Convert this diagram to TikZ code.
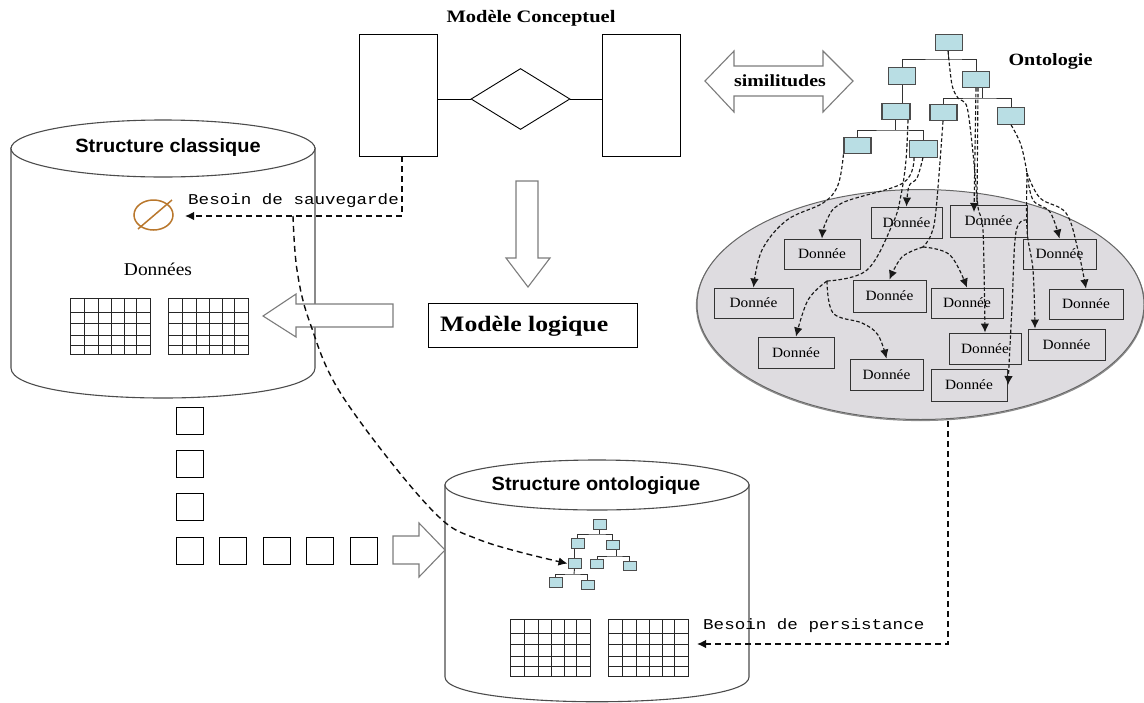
\documentclass[tikz,border=0pt]{standalone}
\usepackage{fontspec}
\usetikzlibrary{arrows.meta,shapes.geometric,calc}
\setmainfont{Liberation Serif}
\newfontfamily\boxf[FakeStretch=1.08]{Liberation Serif}
\newfontfamily\boldf[FakeStretch=1.17]{Liberation Serif}
\newfontfamily\headf[FakeStretch=1.04]{Liberation Sans}
\newfontfamily\monof[FakeStretch=1.17]{Liberation Mono}
\definecolor{treefill}{HTML}{B9DEE4}
\definecolor{ellfill}{HTML}{DEDCE0}
\definecolor{hollow}{HTML}{7C7C7C}
\definecolor{icon}{HTML}{B9772C}
\tikzset{
 tbox/.style={draw=black!70,line width=1.1pt,fill=treefill,inner sep=0pt,minimum width=#1,minimum height=16.5pt},
 tbox/.default=27pt,
 sbox/.style={draw=black!70,line width=1pt,fill=treefill,inner sep=0pt,minimum width=13pt,minimum height=9.5pt},
 dbox/.style={draw=black!80,line width=.9pt,inner sep=0pt,font=\boxf\fontsize{14.2}{16}\selectfont},
 dashc/.style={draw=black!90,line width=1.15pt,dash pattern=on 3.6pt off 2.2pt},
 dashl/.style={draw=black!95,line width=1.4pt,dash pattern=on 6pt off 4pt},
 tip/.style={-{Latex[length=9pt,width=8.5pt]}},
 tline/.style={draw=black!80,line width=.9pt},
 er/.style={draw=black,line width=.9pt,inner sep=0pt},
 sq/.style={draw=black,line width=.9pt,inner sep=0pt,minimum size=27pt},
 harrow/.style={draw=hollow,line width=1.1pt,fill=white},
 cyl/.style={draw=black!70,line width=1.1pt,fill=white},
 gridl/.style={draw=black!85,line width=.8pt},
 lab/.style={inner sep=0pt},
}
\newcommand{\gridtab}[2]{%
 \begin{scope}[shift={(#1,#2)}]
 \draw[gridl] (0,0) rectangle (80,56.5);
 \foreach \vx in {14,28,41,54,66}{\draw[gridl] (\vx,0) -- (\vx,56.5);}
 \foreach \hy in {14,25,37,47}{\draw[gridl] (0,\hy) -- (80.5,\hy);}
 \end{scope}}
\begin{document}
\begin{tikzpicture}[x=1pt,y=-1pt]
\useasboundingbox (0,0) rectangle (1144,702);
% cylinders
\path[cyl] (11,148) -- (11,368) .. controls (11,408) and (315,408) .. (315,368) -- (315,148) -- cycle;
\node[cyl,ellipse,inner sep=0pt,minimum width=304pt,minimum height=57pt] (cylA) at (163,148.5) {};
\node[lab,font=\headf\bfseries\fontsize{19.2}{20}\selectfont] (cylAt) at (168,148) {Structure classique};
\path[cyl] (445,485) -- (445,677) .. controls (445,710) and (749,710) .. (749,677) -- (749,485) -- cycle;
\node[cyl,ellipse,inner sep=0pt,minimum width=304pt,minimum height=50pt] (cylB) at (597,485) {};
\node[lab,font=\headf\bfseries\fontsize{19.2}{20}\selectfont] (cylBt) at (596,486) {Structure ontologique};
% top model
\node[lab,font=\boldf\bfseries\fontsize{17.5}{19}\selectfont] (mct) at (531,18) {Modèle Conceptuel};
\node[er,minimum width=78pt,minimum height=122pt] (e1) at (398,95) {};
\node[er,minimum width=78pt,minimum height=122pt] (e2) at (641,95) {};
\node[er,diamond,aspect=1.62,minimum width=99pt,minimum height=61pt] (rel) at (520.5,99) {};
\draw[line width=.9pt] (e1.east |- rel.west) -- (rel.west);
\draw[line width=.9pt] (rel.east) -- (e2.west |- rel.east);
% hollow arrows
\path[harrow] (516,181) -- (538,181) -- (538,258) -- (550,258) -- (528,287) -- (506,258) -- (516,258) -- cycle;
\path[harrow] (393,304) -- (296,304) -- (296,294) -- (263,316) -- (296,337) -- (296,327) -- (393,327) -- cycle;
\path[harrow] (393,536) -- (419,536) -- (419,523) -- (445,550) -- (419,577) -- (419,564) -- (393,564) -- cycle;
\path[harrow] (705,81) -- (734,51) -- (734,66) -- (823,66) -- (823,51) -- (853,81) -- (823,112) -- (823,96) -- (734,96) -- (734,112) -- cycle;
\node[lab,font=\boldf\bfseries\fontsize{17}{19}\selectfont] (sim) at (780,81) {similitudes};
\node[lab,font=\boldf\bfseries\fontsize{17.2}{19}\selectfont] (ont) at (1050.5,61) {Ontologie};
% logical model
\node[er,minimum width=209pt,minimum height=44pt] (ml) at (532.5,325) {};
\node[lab,anchor=west,font=\boldf\bfseries\fontsize{22}{24}\selectfont] (mlt) at (440,326) {Modèle logique};
% tables
\node[lab,font=\boxf\fontsize{18}{19}\selectfont] (don) at (158,269) {Données};
\gridtab{70}{298}
\gridtab{168}{298}
\gridtab{510}{619.5}
\gridtab{608}{619.5}
% icon
\draw[icon,line width=1.5pt] (153.5,215) ellipse [x radius=19.5,y radius=15];
\draw[icon,line width=1.5pt] (138,229) -- (172,200);
% squares
\node[sq] (s1) at (189.5,421) {};
\node[sq] (s2) at (189.5,464) {};
\node[sq] (s3) at (189.5,507) {};
\node[sq] (s4) at (189.5,551) {};
\node[sq] (s5) at (232.5,551) {};
\node[sq] (s6) at (276.5,551) {};
\node[sq] (s7) at (319.5,551) {};
\node[sq] (s8) at (363.5,551) {};
% big ellipse
\draw[draw=black!45,line width=1.2pt] (920.5,305.5) ellipse [x radius=224,y radius=115];
\node[ellipse,draw=black!60,line width=1pt,fill=ellfill,inner sep=0pt,minimum width=447pt,minimum height=230pt] (ell) at (920.5,304.5) {};
% data boxes
\node[dbox,minimum width=71pt,minimum height=31pt] (b1) at (906.5,222.5) {Donnée};
\node[dbox,minimum width=77pt,minimum height=32pt] (b2) at (988.5,221) {Donnée};
\node[dbox,minimum width=76pt,minimum height=30pt] (b3) at (822,254) {Donnée};
\node[dbox,minimum width=73pt,minimum height=30pt] (b4) at (1059.5,254) {Donnée};
\node[dbox,minimum width=79pt,minimum height=30pt] (b5) at (753.5,303) {Donnée};
\node[dbox,minimum width=73pt,minimum height=32pt] (b6) at (889.5,296) {Donnée};
\node[dbox,minimum width=72pt,minimum height=30pt] (b7) at (967,303) {Donnée};
\node[dbox,minimum width=74pt,minimum height=30pt] (b8) at (1086,304) {Donnée};
\node[dbox,minimum width=76pt,minimum height=31pt] (b9) at (796,352.5) {Donnée};
\node[dbox,minimum width=72pt,minimum height=31pt] (b10) at (985,348.5) {Donnée};
\node[dbox,minimum width=77pt,minimum height=31pt] (b11) at (1066.5,344.5) {Donnée};
\node[dbox,minimum width=73pt,minimum height=31pt] (b12) at (886.5,374.5) {Donnée};
\node[dbox,minimum width=76pt,minimum height=32pt] (b13) at (969,385) {Donnée};
% big tree
\node[tbox] (r) at (949,42.5) {};
\node[tbox] (tl) at (902,76) {};
\node[tbox] (tr) at (976,79.5) {};
\node[tbox=28pt] (ta) at (896,111.5) {};
\node[tbox] (tb) at (943.5,112.5) {};
\node[tbox] (tc) at (1011,116) {};
\node[tbox] (td) at (857.5,145.5) {};
\node[tbox=28pt] (te) at (923.5,149) {};
\coordinate (bus1) at (948,59);
\coordinate (bus2) at (982,98);
\coordinate (bus3) at (895,130);
\draw[tline] (tl.north) |- (bus1) -| (tr.north);
\draw[tline] (r.south -| bus1) -- (bus1);
\draw[tline] (tb.north) |- (bus2) -| (tc.north);
\draw[tline] (tr.south -| bus2) -- (bus2);
\draw[tline] (td.north) |- (bus3) -| (te.north);
\draw[tline] (ta.south -| bus3) -- (bus3);
\draw[tline] (tl.south) -- (tl.south |- ta.north);
% small tree
\node[sbox] (q0) at (599.5,524.5) {};
\node[sbox] (ql) at (577.5,543.5) {};
\node[sbox] (qr) at (612.5,545) {};
\node[sbox] (qa) at (574.5,563.5) {};
\node[sbox] (qb) at (597,564) {};
\node[sbox] (qc) at (629.5,566) {};
\node[sbox] (qd) at (555.5,582.5) {};
\node[sbox] (qe) at (587.5,585) {};
\coordinate (qbus1) at (599.5,534);
\coordinate (qbus2) at (616,556);
\coordinate (qbus3) at (574,574);
\draw[tline] (ql.north) |- (qbus1) -| (qr.north);
\draw[tline] (q0.south) -- (qbus1);
\draw[tline] (qb.north) |- (qbus2) -| (qc.north);
\draw[tline] (qr.south -| qbus2) -- (qbus2);
\draw[tline] (qd.north) |- (qbus3) -| (qe.north);
\draw[tline] (qa.south) -- (qbus3);
\draw[tline] (ql.south -| qa.north) -- (qa.north);
% dashed connectors of the ontology
\coordinate (jd) at (827,281);
\coordinate (je) at (923,247);
\coordinate (jc) at (1027,173);
\draw[dashc,tip] plot[smooth,tension=.6] coordinates {(td.south west) (838,185) (823,203) (787,220) (762,250) (b5.north)};
\draw[dashc,tip] plot[smooth,tension=.6] coordinates {(914,157.5) (903,183) (842,203) (826,222) (b3.north)};
\draw[dashc,tip] plot[smooth,tension=.6] coordinates {(923,157.5) (917,178) (909,186) (b1.north)};
\draw[dashc] plot[smooth,tension=.6] coordinates {(908,120) (906,160) (901,195) (893,223) (867,270) (jd)};
\draw[dashc,tip] plot[smooth,tension=.6] coordinates {(jd) (808,300) (b9.north)};
\draw[dashc,tip] plot[smooth,tension=.6] coordinates {(jd) (833,313) (862,323) (878,335) (b12.north)};
\draw[dashc] plot[smooth,tension=.6] coordinates {(943,121) (936,210) (931,235) (je)};
\draw[dashc,tip] plot[smooth,tension=.6] coordinates {(je) (902,257) (b6.north)};
\draw[dashc,tip] plot[smooth,tension=.6] coordinates {(je) (950,255) (b7.north)};
\draw[dashc,tip] plot[smooth,tension=.5] coordinates {(948,51) (952,85) (958,98) (967,107) (973,153) (978,207) (983,230) (b10.north)};
\draw[dashc,tip] (976,88) -- (974,212);
\draw[dashc] (978,88) -- (977,205);
\draw[dashc] plot[smooth,tension=.6] coordinates {(tc.south) (1021,145) (jc)};
\draw[dashc,tip] plot[smooth,tension=.6] coordinates {(jc) (1033,200) (1050,212) (b4.north)};
\draw[dashc,tip] plot[smooth,tension=.6] coordinates {(jc) (1040,198) (1066,213) (1078,250) (b8.north)};
\draw[dashc,tip] plot[smooth,tension=.6] coordinates {(jc) (1027,230) (1033,270) ([xshift=-31.5pt]b11.north)};
\draw[dashc,tip] plot[smooth,tension=.6] coordinates {(1027,220) (1016,232) (1012,307) ([xshift=39pt]b13.center)};
% long dashed connectors
\coordinate (kA) at (293,216);
\draw[dashl,tip] (e1.south) ++(4,0) |- (kA) -- (185,216);
\draw[dashl,tip] plot[smooth,tension=.6] coordinates {(kA) (297,270) (310,323) (343,397) (430,508) (480,540) (qa.west)};
\node[lab,anchor=west,font=\monof\fontsize{15}{17}\selectfont] (bs) at (188,200.5) {Besoin de sauvegarde};
\coordinate (kB) at (948,644);
\draw[dashl,tip] (948,421) -- (kB) -- (697,644);
\node[lab,anchor=west,font=\monof\fontsize{15}{17}\selectfont] (bp) at (703,625.5) {Besoin de persistance};
\end{tikzpicture}
\end{document}
